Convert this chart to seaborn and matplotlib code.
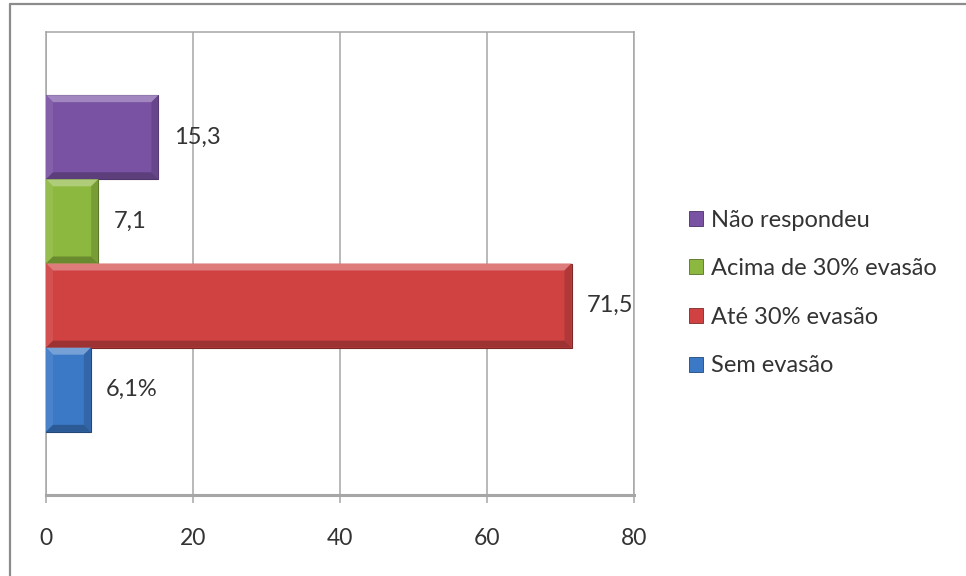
import matplotlib
matplotlib.use("Agg")
import matplotlib.pyplot as plt
import pandas as pd
import seaborn as sns
from matplotlib.colors import to_rgb
from matplotlib.patches import Polygon, Rectangle
from matplotlib.lines import Line2D

# Data
categorias = ["Não respondeu", "Acima de 30% evasão", "Até 30% evasão", "Sem evasão"]
valores = [15.3, 7.1, 71.5, 6.1]
rotulos = ["15,3", "7,1", "71,5", "6,1%"]
cores = ["#7952A3", "#8DB83F", "#D04242", "#3B78C6"]
marcas_x = [0, 20, 40, 60, 80]

sns.set_theme(style="white")
plt.rcParams["font.family"] = ["Lato", "DejaVu Sans"]

df = pd.DataFrame({"grupo": [""] * len(categorias),
                   "categoria": categorias,
                   "valor": valores})

W, H = 966, 576
fig = plt.figure(figsize=(W / 100, H / 100), dpi=100)
fig.patch.set_facecolor("white")
ax = fig.add_axes([46 / W, 1 - 495 / H, 588 / W, 463 / H])

sns.barplot(data=df, x="valor", y="grupo", hue="categoria",
            hue_order=categorias, palette=cores, orient="h",
            width=0.8, saturation=1, ax=ax, legend=True, zorder=3)

ax.set_xlim(0, 80)
ax.set_ylim(0.55, -0.55)
ax.set_xticks(marcas_x)
ax.set_xticklabels([str(t) for t in marcas_x])
ax.set_yticks([])
ax.set_xlabel("")
ax.set_ylabel("")

# grid and frame
cinza = "#a6a6a6"
ax.set_axisbelow(True)
ax.xaxis.grid(True, color=cinza, lw=1.1)
for lado in ["left", "top", "right"]:
    ax.spines[lado].set_color(cinza)
    ax.spines[lado].set_linewidth(1.1)
ax.spines["bottom"].set_color(cinza)
ax.spines["bottom"].set_linewidth(2.2)
ax.tick_params(axis="x", bottom=True, direction="out", length=6, width=1.1,
               color=cinza, pad=18, labelsize=16.5, labelcolor="#333333")


def misturar(c, alvo, f):
    r = to_rgb(c)
    return tuple(a + (b - a) * f for a, b in zip(r, alvo))


# bevelled look on every bar
bx = 7 / 588 * 80
by = 7 / 463 * 1.1
barras = [p for p in ax.patches if isinstance(p, Rectangle) and p.get_width() > 0]
for p, cor in zip(barras, cores):
    x0, y0 = p.get_x(), p.get_y()
    x1, y1 = x0 + p.get_width(), y0 + p.get_height()
    p.set_edgecolor(misturar(cor, (0, 0, 0), 0.4))
    p.set_linewidth(0.8)
    faces = [
        ([(x0, y0), (x1, y0), (x1 - bx, y0 + by), (x0 + bx, y0 + by)], misturar(cor, (1, 1, 1), 0.3)),
        ([(x0, y0), (x0 + bx, y0 + by), (x0 + bx, y1 - by), (x0, y1)], misturar(cor, (1, 1, 1), 0.08)),
        ([(x1, y0), (x1, y1), (x1 - bx, y1 - by), (x1 - bx, y0 + by)], misturar(cor, (0, 0, 0), 0.15)),
        ([(x0, y1), (x1, y1), (x1 - bx, y1 - by), (x0 + bx, y1 - by)], misturar(cor, (0, 0, 0), 0.25)),
    ]
    for pts, fc in faces:
        ax.add_patch(Polygon(pts, closed=True, facecolor=fc, edgecolor="none", zorder=3.5))

# value labels
for cont, txt in zip(ax.containers, rotulos):
    ax.bar_label(cont, labels=[txt], padding=11, fontsize=17, color="#333333")

# legend on the right
handles, labels = ax.get_legend_handles_labels()
if ax.get_legend() is not None:
    ax.get_legend().remove()
for h, cor in zip(handles, cores):
    h.set_edgecolor(misturar(cor, (0, 0, 0), 0.4))
    h.set_linewidth(0.6)
ax.legend(handles, labels, loc="center left",
          bbox_to_anchor=(689 / W, 1 - 293 / H), bbox_transform=fig.transFigure,
          frameon=False, fontsize=17, labelcolor="#333333",
          handlelength=0.6, handleheight=0.6, handletextpad=0.35,
          labelspacing=1.17, borderaxespad=0, borderpad=0)

# outer chart border (left and top edges)
borda = "#8c8c8c"
fig.add_artist(Line2D([9.5 / W, 9.5 / W], [0, 1 - 3.5 / H], color=borda, lw=1.6))
fig.add_artist(Line2D([9.5 / W, 1], [1 - 3.5 / H, 1 - 3.5 / H], color=borda, lw=1.6))

fig.savefig("out.png", dpi=100, facecolor="white")
